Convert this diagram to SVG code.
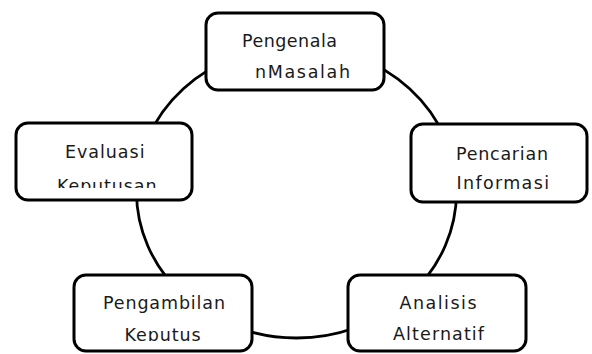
<svg xmlns="http://www.w3.org/2000/svg" width="592" height="354" viewBox="0 0 592 354">
<style>
.box{fill:#fff;stroke:#000;stroke-width:3}
.ring{fill:none;stroke:#000;stroke-width:2.8}
text{font-family:"DejaVu Sans","Liberation Sans",sans-serif;font-size:17.5px;fill:#1a1a1a}
</style>
<defs>
<clipPath id="clipL"><rect x="0" y="0" width="592" height="188"/></clipPath>
<clipPath id="clipB"><rect x="0" y="0" width="592" height="341"/></clipPath>
</defs>
<rect width="592" height="354" fill="#fff"/>
<g id="connectors">
<ellipse class="ring" cx="296.5" cy="192" rx="160" ry="146"/>
</g>
<g id="node-pengenalan">
<rect class="box" x="206" y="13" width="178" height="77" rx="12"/>
<text x="242" y="47" textLength="95" lengthAdjust="spacing">Pengenala</text>
<text x="255" y="78" textLength="95" lengthAdjust="spacing">nMasalah</text>
</g>
<g id="node-pencarian">
<rect class="box" x="411" y="124" width="176" height="78" rx="12"/>
<text x="456" y="160" textLength="92" lengthAdjust="spacing">Pencarian</text>
<text x="456.5" y="188.5" textLength="92.5" lengthAdjust="spacing">Informasi</text>
</g>
<g id="node-analisis">
<rect class="box" x="348" y="275" width="178" height="76" rx="12"/>
<text x="399.5" y="309" textLength="77" lengthAdjust="spacing">Analisis</text>
<text x="393" y="339.5" textLength="91" lengthAdjust="spacing">Alternatif</text>
</g>
<g id="node-pengambilan">
<rect class="box" x="74" y="275" width="178" height="76" rx="12"/>
<text x="103" y="309" textLength="122" lengthAdjust="spacing">Pengambilan</text>
<text x="124.5" y="340.5" textLength="76" lengthAdjust="spacing" clip-path="url(#clipB)">Keputus</text>
</g>
<g id="node-evaluasi">
<rect class="box" x="16" y="123" width="176" height="77" rx="12"/>
<text x="65" y="157.5" textLength="79.5" lengthAdjust="spacing">Evaluasi</text>
<text x="57" y="191.8" textLength="99.5" lengthAdjust="spacing" clip-path="url(#clipL)">Keputusan</text>
</g>
</svg>
